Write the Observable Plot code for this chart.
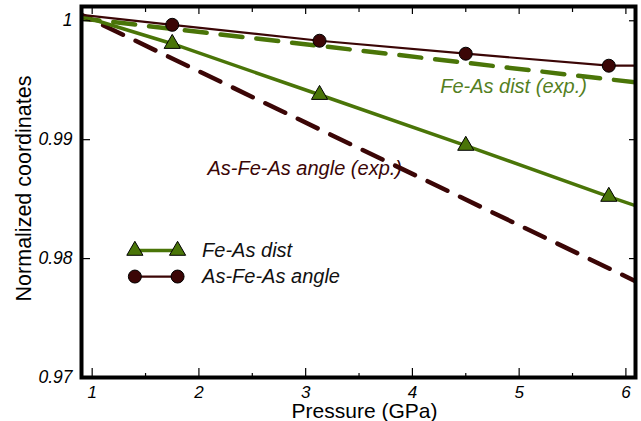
<!DOCTYPE html>
<html>
<head>
<meta charset="utf-8">
<script src="https://cdn.jsdelivr.net/npm/d3@7"></script>
<script src="https://cdn.jsdelivr.net/npm/@observablehq/plot@0.6"></script>
<style>
  html, body { margin: 0; padding: 0; background: white; }
</style>
</head>
<body>
<div id="chart"></div>
<script>
// ---- data ----
const pressure = [1.75, 3.13, 4.50, 5.84];                 // GPa (computed points)
const feAsDist = [0.99807, 0.99378, 0.98950, 0.98521];     // Fe-As dist
const asFeAsAngle = [0.99966, 0.99832, 0.99723, 0.99622];  // As-Fe-As angle
// curve values at the left/right edges of the frame
const edgePressure = [0.9, 6.09];
const feAsDistEdges = [1.0004, 0.98445];
const asFeAsAngleEdges = [1.0005, 0.99622];
// experimental (dashed) lines
const feAsDistExp = [1.0002, 0.99482];
const asFeAsAngleExp = [1.0005, 0.9781];

const xTicks = [1, 2, 3, 4, 5, 6];
const xMinorTicks = [1.5, 2.5, 3.5, 4.5, 5.5];
const yTicks = [0.97, 0.98, 0.99, 1];
const yTickLabels = ["0.97", "0.98", "0.99", "1"];

const seriesNames = ["Fe-As dist", "As-Fe-As angle"];
const annotationText = ["Fe-As dist (exp.)", "As-Fe-As angle (exp.)"];
const annotationP = [4.26, 2.08];
const annotationValue = [0.99445, 0.98756];

// ---- build tables ----
const GREEN = "#4a7508", GREEN_TXT = "#557f1f", BROWN = "#3b0606";
const solidFe = [[edgePressure[0], feAsDistEdges[0]], ...pressure.map((p, i) => [p, feAsDist[i]]), [edgePressure[1], feAsDistEdges[1]]];
const solidAng = [[edgePressure[0], asFeAsAngleEdges[0]], ...pressure.map((p, i) => [p, asFeAsAngle[i]]), [edgePressure[1], asFeAsAngleEdges[1]]];
const expFe = edgePressure.map((p, i) => [p, feAsDistExp[i]]);
const expAng = edgePressure.map((p, i) => [p, asFeAsAngleExp[i]]);
const ptsFe = pressure.map((p, i) => [p, feAsDist[i]]);
const ptsAng = pressure.map((p, i) => [p, asFeAsAngle[i]]);
const annotations = annotationText.map((t, i) => ({t, x: annotationP[i], y: annotationValue[i], c: i === 0 ? GREEN_TXT : BROWN}));

// layout
const W = 641, H = 421, ML = 81, MR = 6, MT = 6, MB = 44;
const FW = W - ML - MR, FH = H - MT - MB;
// legend placement (data coordinates)
const LEG_X1 = 1.40, LEG_X2 = 1.80, LEG_TX = 2.03, LEG_Y = [0.98067, 0.97849];

const font = "'Liberation Sans', Arial, Helvetica, sans-serif";

const plot = Plot.plot({
  width: W, height: H,
  marginLeft: ML, marginRight: MR, marginTop: MT, marginBottom: MB,
  x: {domain: [0.9, 6.09]},
  y: {domain: [0.97, 1.0012]},
  style: {fontFamily: font, background: "white", color: "black"},
  marks: [
    // experimental dashed lines
    Plot.line(expFe, {x: d => d[0], y: d => d[1], stroke: GREEN, strokeWidth: 4.5, strokeDasharray: "22,14", strokeDashoffset: 4, clip: true}),
    Plot.line(expAng, {x: d => d[0], y: d => d[1], stroke: BROWN, strokeWidth: 4.5, strokeDasharray: "22,14", strokeDashoffset: 12, clip: true}),
    // computed solid lines
    Plot.line(solidFe, {x: d => d[0], y: d => d[1], stroke: GREEN, strokeWidth: 3.5, clip: true}),
    Plot.line(solidAng, {x: d => d[0], y: d => d[1], stroke: BROWN, strokeWidth: 2.2, clip: true}),
    Plot.dot(ptsFe, {x: d => d[0], y: d => d[1], symbol: "triangle", r: 6, fill: GREEN, stroke: "black", strokeWidth: 1}),
    Plot.dot(ptsAng, {x: d => d[0], y: d => d[1], r: 6.5, fill: BROWN, stroke: "black", strokeWidth: 1}),
    // annotations
    Plot.text(annotations, {x: "x", y: "y", text: "t", fill: "c", textAnchor: "start", lineAnchor: "middle", fontSize: 20, fontStyle: "italic"}),
    // legend
    Plot.link([0], {x1: LEG_X1, x2: LEG_X2, y1: LEG_Y[0], y2: LEG_Y[0], stroke: GREEN, strokeWidth: 3.5}),
    Plot.link([0], {x1: LEG_X1, x2: LEG_X2, y1: LEG_Y[1], y2: LEG_Y[1], stroke: BROWN, strokeWidth: 2.2}),
    Plot.dot([LEG_X1, LEG_X2], {x: d => d, y: LEG_Y[0], symbol: "triangle", r: 6, fill: GREEN, stroke: "black", strokeWidth: 1}),
    Plot.dot([LEG_X1, LEG_X2], {x: d => d, y: LEG_Y[1], r: 6.5, fill: BROWN, stroke: "black", strokeWidth: 1}),
    Plot.text(seriesNames, {x: LEG_TX, y: (d, i) => LEG_Y[i], text: d => d, textAnchor: "start", lineAnchor: "middle", fontSize: 20, fontStyle: "italic", fill: "#111"}),
    // inward ticks
    Plot.ruleX(xTicks, {stroke: "black", strokeWidth: 1.2, insetTop: FH - 9}),
    Plot.ruleX(xMinorTicks, {stroke: "black", strokeWidth: 1.2, insetTop: FH - 4}),
    Plot.ruleX(xTicks, {stroke: "black", strokeWidth: 1.2, insetBottom: FH - 8}),
    Plot.ruleX(xMinorTicks, {stroke: "black", strokeWidth: 1.2, insetBottom: FH - 6}),
    Plot.ruleY(yTicks, {stroke: "black", strokeWidth: 1.2, insetRight: FW - 9}),
    Plot.ruleY(yTicks, {stroke: "black", strokeWidth: 1.2, insetLeft: FW - 6}),
    Plot.frame({stroke: "black", strokeWidth: 4}),
    // axes
    Plot.axisX({ticks: xTicks, tickSize: 0, tickPadding: 8, fontSize: 17, fontStyle: "italic", label: null, tickFormat: d => String(d)}),
    Plot.axisY({ticks: yTicks, tickSize: 0, tickPadding: 9, fontSize: 17.5, fontStyle: "italic", label: null, tickFormat: d => yTickLabels[yTicks.indexOf(d)]}),
    Plot.text(["Pressure (GPa)"], {frameAnchor: "bottom", textAnchor: "middle", dx: 6, dy: 33.5, lineAnchor: "middle", fontSize: 21, fill: "black"}),
    Plot.text(["Normalized coordinates"], {frameAnchor: "left", textAnchor: "middle", rotate: -90, dx: -57.5, dy: -3.5, lineAnchor: "middle", fontSize: 21.5, fill: "black"})
  ]
});
document.getElementById("chart").appendChild(plot);
</script>
</body>
</html>
